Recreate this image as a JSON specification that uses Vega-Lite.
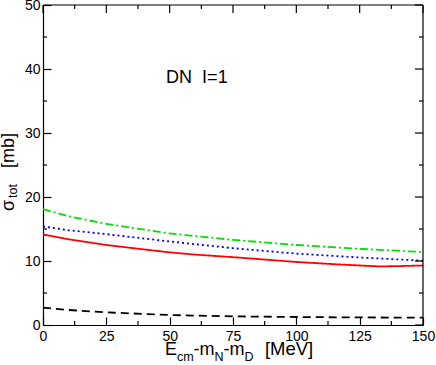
{
  "$schema": "https://vega.github.io/schema/vega-lite/v6.json",
  "width": 380,
  "height": 320,
  "autosize": "none",
  "padding": {"left": 43, "top": 5, "right": 13, "bottom": 40},
  "background": "white",
  "config": {
    "view": {"stroke": null},
    "axis": {
      "labelFont": "Liberation Sans",
      "labelFontSize": 14,
      "labelColor": "black",
      "domainColor": "black",
      "domainWidth": 1.2,
      "tickColor": "black",
      "tickWidth": 1.2,
      "grid": false,
      "labelFlush": false,
      "labelOverlap": false
    },
    "text": {"font": "Liberation Sans", "color": "black"},
    "rule": {"color": "black", "strokeWidth": 1.2}
  },
  "datasets": {
    "curves": [
      {"E": 0, "sigma": 14.15, "s": "full"},
      {"E": 10, "sigma": 13.4, "s": "full"},
      {"E": 25, "sigma": 12.5, "s": "full"},
      {"E": 40, "sigma": 11.8, "s": "full"},
      {"E": 50, "sigma": 11.35, "s": "full"},
      {"E": 60, "sigma": 11.0, "s": "full"},
      {"E": 75, "sigma": 10.6, "s": "full"},
      {"E": 90, "sigma": 10.15, "s": "full"},
      {"E": 100, "sigma": 9.85, "s": "full"},
      {"E": 115, "sigma": 9.5, "s": "full"},
      {"E": 125, "sigma": 9.3, "s": "full"},
      {"E": 133, "sigma": 9.15, "s": "full"},
      {"E": 140, "sigma": 9.2, "s": "full"},
      {"E": 150, "sigma": 9.3, "s": "full"},
      {"E": 0, "sigma": 15.4, "s": "dotted"},
      {"E": 10, "sigma": 14.8, "s": "dotted"},
      {"E": 25, "sigma": 14.2, "s": "dotted"},
      {"E": 50, "sigma": 13.05, "s": "dotted"},
      {"E": 75, "sigma": 12.0, "s": "dotted"},
      {"E": 100, "sigma": 11.15, "s": "dotted"},
      {"E": 125, "sigma": 10.55, "s": "dotted"},
      {"E": 150, "sigma": 10.05, "s": "dotted"},
      {"E": 0, "sigma": 18.1, "s": "dashdot"},
      {"E": 10, "sigma": 17.0, "s": "dashdot"},
      {"E": 25, "sigma": 15.8, "s": "dashdot"},
      {"E": 50, "sigma": 14.3, "s": "dashdot"},
      {"E": 75, "sigma": 13.3, "s": "dashdot"},
      {"E": 100, "sigma": 12.5, "s": "dashdot"},
      {"E": 125, "sigma": 11.9, "s": "dashdot"},
      {"E": 150, "sigma": 11.4, "s": "dashdot"},
      {"E": 0, "sigma": 2.72, "s": "dashed"},
      {"E": 10, "sigma": 2.35, "s": "dashed"},
      {"E": 25, "sigma": 1.98, "s": "dashed"},
      {"E": 50, "sigma": 1.56, "s": "dashed"},
      {"E": 75, "sigma": 1.35, "s": "dashed"},
      {"E": 100, "sigma": 1.25, "s": "dashed"},
      {"E": 125, "sigma": 1.18, "s": "dashed"},
      {"E": 150, "sigma": 1.15, "s": "dashed"}
    ],
    "xmajor": [{"v": 0}, {"v": 25}, {"v": 50}, {"v": 75}, {"v": 100}, {"v": 125}, {"v": 150}],
    "xminor": [{"v": 12.5}, {"v": 37.5}, {"v": 62.5}, {"v": 87.5}, {"v": 112.5}, {"v": 137.5}],
    "ymajor": [{"v": 0}, {"v": 10}, {"v": 20}, {"v": 30}, {"v": 40}, {"v": 50}],
    "yminor": [{"v": 5}, {"v": 15}, {"v": 25}, {"v": 35}, {"v": 45}],
    "one": [{}]
  },
  "layer": [
    {
      "data": {"name": "curves"},
      "mark": {"type": "line", "strokeWidth": 1.8},
      "encoding": {
        "x": {"field": "E", "type": "quantitative", "scale": {"domain": [0, 150], "nice": false, "zero": false}, "title": null,
              "axis": {"orient": "bottom", "values": [0, 25, 50, 75, 100, 125, 150], "tickSize": -8, "labelPadding": 12}},
        "y": {"field": "sigma", "type": "quantitative", "scale": {"domain": [0, 50], "nice": false, "zero": false}, "title": null,
              "axis": {"orient": "left", "values": [0, 10, 20, 30, 40, 50], "tickSize": -8, "labelPadding": 11}},
        "color": {"field": "s", "type": "nominal", "legend": null,
                  "scale": {"domain": ["full", "dotted", "dashdot", "dashed"], "range": ["#ff0000", "#0000ff", "#00e000", "#000000"]}},
        "strokeDash": {"field": "s", "type": "nominal", "legend": null,
                  "scale": {"domain": ["full", "dotted", "dashdot", "dashed"], "range": [[1, 0], [2, 3], [8, 3, 2, 3], [8, 5]]}}
      }
    },
    {
      "data": {"name": "one"},
      "mark": {"type": "rule"},
      "encoding": {
        "x": {"datum": 0, "type": "quantitative", "axis": null},
        "x2": {"datum": 150},
        "y": {"datum": 50, "type": "quantitative", "axis": null}
      }
    },
    {
      "data": {"name": "one"},
      "mark": {"type": "rule"},
      "encoding": {
        "x": {"datum": 150, "type": "quantitative", "axis": null},
        "y": {"datum": 0, "type": "quantitative", "axis": null},
        "y2": {"datum": 50}
      }
    },
    {
      "data": {"name": "xmajor"},
      "mark": {"type": "rule"},
      "encoding": {
        "x": {"field": "v", "type": "quantitative", "axis": null},
        "y": {"datum": 50, "type": "quantitative", "axis": null},
        "y2": {"datum": 48.75}
      }
    },
    {
      "data": {"name": "xminor"},
      "mark": {"type": "rule"},
      "encoding": {
        "x": {"field": "v", "type": "quantitative", "axis": null},
        "y": {"datum": 50, "type": "quantitative", "axis": null},
        "y2": {"datum": 49.375}
      }
    },
    {
      "data": {"name": "xminor"},
      "mark": {"type": "rule"},
      "encoding": {
        "x": {"field": "v", "type": "quantitative", "axis": null},
        "y": {"datum": 0, "type": "quantitative", "axis": null},
        "y2": {"datum": 0.625}
      }
    },
    {
      "data": {"name": "ymajor"},
      "mark": {"type": "rule"},
      "encoding": {
        "y": {"field": "v", "type": "quantitative", "axis": null},
        "x": {"datum": 150, "type": "quantitative", "axis": null},
        "x2": {"datum": 146.84}
      }
    },
    {
      "data": {"name": "yminor"},
      "mark": {"type": "rule"},
      "encoding": {
        "y": {"field": "v", "type": "quantitative", "axis": null},
        "x": {"datum": 150, "type": "quantitative", "axis": null},
        "x2": {"datum": 148.42}
      }
    },
    {
      "data": {"name": "yminor"},
      "mark": {"type": "rule"},
      "encoding": {
        "y": {"field": "v", "type": "quantitative", "axis": null},
        "x": {"datum": 0, "type": "quantitative", "axis": null},
        "x2": {"datum": 1.58}
      }
    },
    {
      "data": {"name": "one"},
      "mark": {"type": "text", "text": "DN\u00a0\u00a0I=1", "fontSize": 18, "align": "left", "baseline": "alphabetic"},
      "encoding": {
        "x": {"datum": 48.6, "type": "quantitative", "axis": null},
        "y": {"datum": 37.8, "type": "quantitative", "axis": null}
      }
    },
    {
      "data": {"name": "one"},
      "mark": {"type": "text", "text": "E", "fontSize": 18, "align": "left", "baseline": "alphabetic"},
      "encoding": {
        "x": {"datum": 48.16, "type": "quantitative", "axis": null},
        "y": {"datum": -4.69, "type": "quantitative", "axis": null}
      }
    },
    {
      "data": {"name": "one"},
      "mark": {"type": "text", "text": "cm", "fontSize": 12.5, "align": "left", "baseline": "alphabetic"},
      "encoding": {
        "x": {"datum": 52.9, "type": "quantitative", "axis": null},
        "y": {"datum": -5.62, "type": "quantitative", "axis": null}
      }
    },
    {
      "data": {"name": "one"},
      "mark": {"type": "text", "text": "-m", "fontSize": 18, "align": "left", "baseline": "alphabetic"},
      "encoding": {
        "x": {"datum": 59.41, "type": "quantitative", "axis": null},
        "y": {"datum": -4.69, "type": "quantitative", "axis": null}
      }
    },
    {
      "data": {"name": "one"},
      "mark": {"type": "text", "text": "N", "fontSize": 12.5, "align": "left", "baseline": "alphabetic"},
      "encoding": {
        "x": {"datum": 67.7, "type": "quantitative", "axis": null},
        "y": {"datum": -5.62, "type": "quantitative", "axis": null}
      }
    },
    {
      "data": {"name": "one"},
      "mark": {"type": "text", "text": "-m", "fontSize": 18, "align": "left", "baseline": "alphabetic"},
      "encoding": {
        "x": {"datum": 71.26, "type": "quantitative", "axis": null},
        "y": {"datum": -4.69, "type": "quantitative", "axis": null}
      }
    },
    {
      "data": {"name": "one"},
      "mark": {"type": "text", "text": "D", "fontSize": 12.5, "align": "left", "baseline": "alphabetic"},
      "encoding": {
        "x": {"datum": 79.54, "type": "quantitative", "axis": null},
        "y": {"datum": -5.62, "type": "quantitative", "axis": null}
      }
    },
    {
      "data": {"name": "one"},
      "mark": {"type": "text", "text": "[MeV]", "fontSize": 18.5, "align": "left", "baseline": "alphabetic"},
      "encoding": {
        "x": {"datum": 87.6, "type": "quantitative", "axis": null},
        "y": {"datum": -4.69, "type": "quantitative", "axis": null}
      }
    },
    {
      "data": {"name": "one"},
      "mark": {"type": "text", "text": "σ", "fontSize": 18, "align": "left", "baseline": "alphabetic", "angle": 270},
      "encoding": {
        "x": {"datum": -11.6, "type": "quantitative", "axis": null},
        "y": {"datum": 17.81, "type": "quantitative", "axis": null}
      }
    },
    {
      "data": {"name": "one"},
      "mark": {"type": "text", "text": "tot", "fontSize": 12.5, "align": "left", "baseline": "alphabetic", "angle": 270},
      "encoding": {
        "x": {"datum": -10.26, "type": "quantitative", "axis": null},
        "y": {"datum": 19.84, "type": "quantitative", "axis": null}
      }
    },
    {
      "data": {"name": "one"},
      "mark": {"type": "text", "text": "[mb]", "fontSize": 18, "align": "left", "baseline": "alphabetic", "angle": 270},
      "encoding": {
        "x": {"datum": -11.6, "type": "quantitative", "axis": null},
        "y": {"datum": 24.53, "type": "quantitative", "axis": null}
      }
    }
  ],
  "resolve": {"axis": {"x": "independent", "y": "independent"}}
}
